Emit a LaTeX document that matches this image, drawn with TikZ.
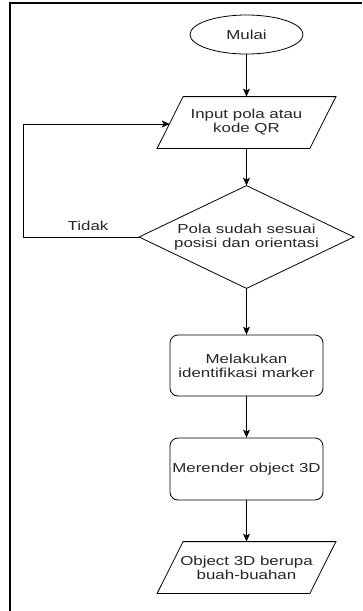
\documentclass[tikz,border=0pt]{standalone}
\usepackage{fontspec}
\setmainfont{Liberation Sans}
\usepackage{graphicx}
\usetikzlibrary{shapes.geometric,arrows.meta,calc}
\newcommand{\sx}[1]{\scalebox{1.3}[1]{#1}}
\begin{document}
\begin{tikzpicture}[x=1pt,y=-1pt,
  line width=0.8pt,
  every node/.style={font=\fontsize{13}{14}\selectfont, text=black!85, align=center, inner sep=0pt},
  term/.style={ellipse, draw, minimum width=113pt, minimum height=39pt},
  io/.style={rectangle, minimum width=152pt, minimum height=51pt},
  proc/.style={rectangle, draw, rounded corners=8pt, minimum width=153pt},
  dec/.style={rectangle, minimum width=214pt, minimum height=102pt},
  arr/.style={-{Stealth[length=8pt,width=7pt,inset=2pt]}},
  frame/.style={line width=1.3pt},
]
\useasboundingbox (0,0) rectangle (362,611);
% frame
\draw[frame] (362,3) -- (10,3) -- (10,611);

\node[term] (start) at (246.5,34.5) {\sx{Mulai}};
\node[io] (in) at (246.5,122.5) {\sx{Input pola atau}\\\sx{kode QR}};
\draw ($(in.north west)+(13,0)$) -- ($(in.north east)+(13,0)$) -- ($(in.south east)+(-13,0)$) -- ($(in.south west)+(-13,0)$) -- cycle;
\node[dec] (dec) at (246.5,237) {\sx{Pola sudah sesuai}\\\sx{posisi dan orientasi}};
\draw (dec.north) -- (dec.east) -- (dec.south) -- (dec.west) -- cycle;
\node[proc, minimum height=61pt] (id) at (246.5,365.5) {\sx{Melakukan}\\\sx{identifikasi marker}};
\node[proc, minimum height=62pt] (rend) at (246.5,469) {\sx{Merender object 3D}};
\node[io] (out) at (246.5,567.5) {\sx{Object 3D berupa}\\\sx{buah-buahan}};
\draw ($(out.north west)+(13,0)$) -- ($(out.north east)+(13,0)$) -- ($(out.south east)+(-13,0)$) -- ($(out.south west)+(-13,0)$) -- cycle;

\node (tidak) at (88,226) {\sx{Tidak}};
\coordinate (lp) at (23,124);
\coordinate (inL) at (169.7,124);

\draw[arr] (start) -- (in);
\draw[arr] (in) -- (dec);
\draw[arr] (dec) -- (id);
\draw[arr] (id) -- (rend);
\draw[arr] (rend) -- (out);
\draw[arr] (dec.west) -| (lp) -- (inL);
\end{tikzpicture}
\end{document}
